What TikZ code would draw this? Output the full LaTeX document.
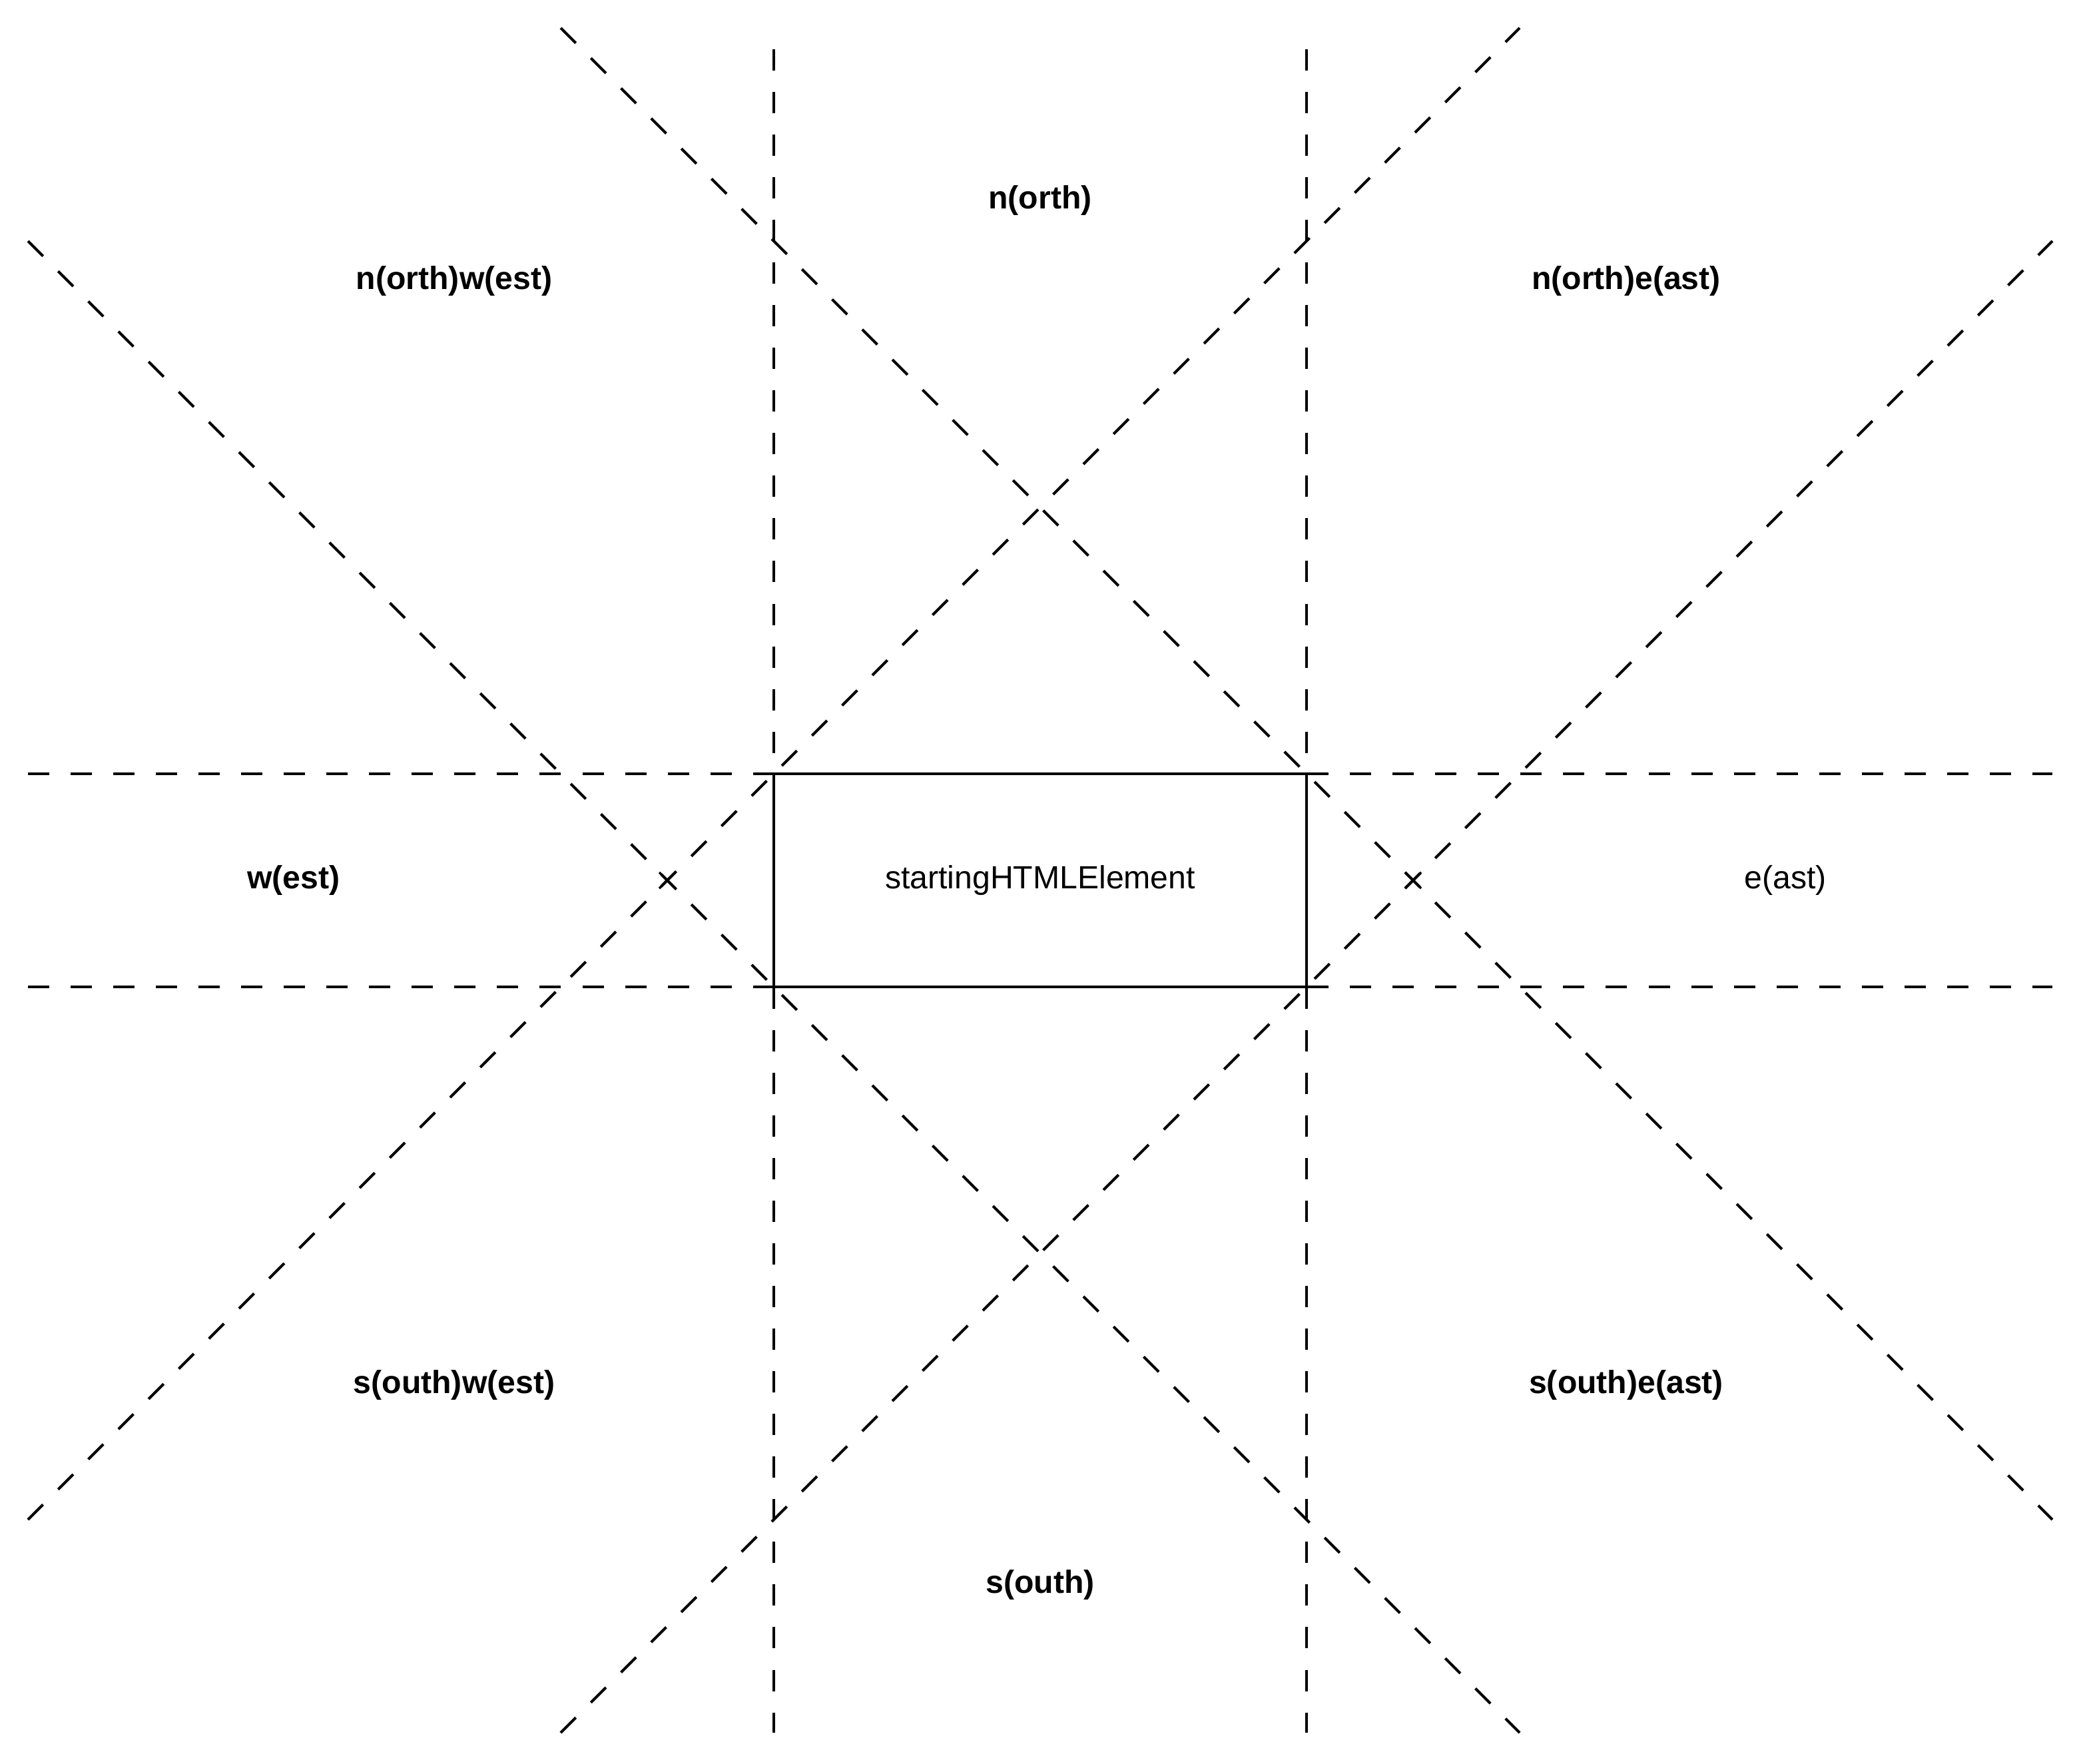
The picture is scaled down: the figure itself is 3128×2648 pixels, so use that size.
\documentclass[tikz,border=0pt]{standalone}
\usepackage{fontspec}
\setmainfont{Liberation Sans}
\begin{document}
\begin{tikzpicture}[x=0.01cm,y=-0.01cm,
  guide/.style={line width=0.04cm, dash pattern=on 0.32cm off 0.32cm},
  labelfont/.style={font=\fontsize{13.7}{16}\selectfont, inner sep=0pt},
  region/.style={labelfont, font=\fontsize{13.7}{16}\selectfont\bfseries},
  elembox/.style={draw, line width=0.04cm, minimum width=8cm, minimum height=3.2cm,
                  inner sep=0pt, font=\fontsize{13.7}{16}\selectfont},
  crossmark/.style={line width=0.035cm}
]
\useasboundingbox (0,0) rectangle (3128,2648);

% the element itself
\node[elembox] (el) at (1562,1322) {startingHTMLElement};

% end points of the guide lines
\coordinate (h1a) at (42,1162);   \coordinate (h1b) at (3082,1162);
\coordinate (h2a) at (42,1482);   \coordinate (h2b) at (3082,1482);
\coordinate (v1a) at (1162,74);   \coordinate (v1b) at (1162,2602);
\coordinate (v2a) at (1962,74);   \coordinate (v2b) at (1962,2602);
\coordinate (d1a) at (842,42);    \coordinate (d1b) at (3082,2282);
\coordinate (d2a) at (42,362);    \coordinate (d2b) at (2282,2602);
\coordinate (d3a) at (42,2282);   \coordinate (d3b) at (2282,42);
\coordinate (d4a) at (842,2602);  \coordinate (d4b) at (3082,362);

% horizontal and vertical guides along the box edges
\draw[guide] (h1a) -- (h1b);
\draw[guide] (h2a) -- (h2b);
\draw[guide] (v1a) -- (v1b);
\draw[guide] (v2a) -- (v2b);

% diagonal guides through the corners
\draw[guide] (d1a) -- (d1b);
\draw[guide] (d2a) -- (d2b);
\draw[guide] (d3a) -- (d3b);
\draw[guide] (d4a) -- (d4b);

% markers where the diagonals meet beside the box
\coordinate (wx) at (1002,1322);
\coordinate (ex) at (2122,1322);
\draw[crossmark] (wx) ++(-12,-12) -- ++(24,24) (wx) ++(-12,12) -- ++(24,-24);
\draw[crossmark] (ex) ++(-12,-12) -- ++(24,24) (ex) ++(-12,12) -- ++(24,-24);

% direction labels
\node[region] (n)  at (1562,301)  {n(orth)};
\node[region] (nw) at (682,422)   {n(orth)w(est)};
\node[region] (ne) at (2442,422)  {n(orth)e(ast)};
\node[region] (w)  at (441,1322)  {w(est)};
\node[labelfont] (e) at (2681,1322) {e(ast)};
\node[region] (sw) at (682,2080)  {s(outh)w(est)};
\node[region] (se) at (2442,2080) {s(outh)e(ast)};
\node[region] (s)  at (1562,2380) {s(outh)};
\end{tikzpicture}
\end{document}
